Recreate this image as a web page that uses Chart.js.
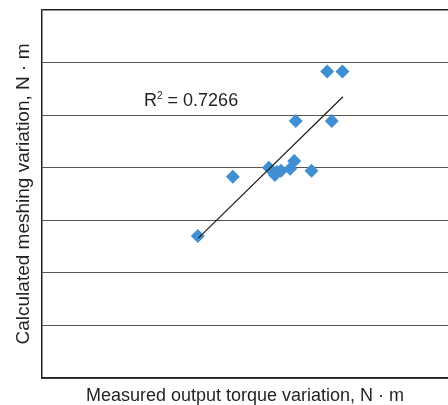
<!DOCTYPE html>
<html>
<head>
<meta charset="utf-8">
<script src="https://cdn.jsdelivr.net/npm/chart.js@4.4.0/dist/chart.umd.min.js"></script>
<style>
	html, body { margin: 0; padding: 0; background: #fff; }
	#wrap { width: 448px; height: 405px; }
</style>
</head>
<body>
<div id="wrap"><canvas id="chart"></canvas></div>
<script>
// measured torque variation (x) vs calculated meshing variation (y)
var measured = [3.07, 3.76, 4.47, 4.59, 4.63, 4.71, 4.89, 4.97, 5.31, 5.00, 5.71, 5.62, 5.92];
var calculated = [2.70, 3.83, 4.00, 3.86, 3.92, 3.94, 3.98, 4.13, 3.94, 4.89, 4.89, 5.83, 5.83];

// linear trend line end points
var trendX = [3.08, 5.93];
var trendY = [2.66, 5.35];

var r2Text = "0.7266";
var r2Pos = [2.01, 5.17];

var xTitle = "Measured output torque variation, N · m";
var yTitle = "Calculated meshing variation, N · m";

var FONT = "'Liberation Sans', Arial, Helvetica, sans-serif";
var TEXT = "#231f20";

var points = [];
for (let i = 0; i < measured.length; i++) {
	points.push({x: measured[i], y: calculated[i]});
}
var trend = [];
for (let i = 0; i < trendX.length; i++) {
	trend.push({x: trendX[i], y: trendY[i]});
}

// R² label drawn in data coordinates
var r2Label = {
	id: "r2Label",
	afterDraw: function(chart) {
		var ctx = chart.ctx;
		var x = chart.scales.x.getPixelForValue(r2Pos[0]);
		var y = chart.scales.y.getPixelForValue(r2Pos[1]);
		ctx.save();
		ctx.fillStyle = TEXT;
		ctx.textBaseline = "alphabetic";
		ctx.font = "18px " + FONT;
		ctx.fillText("R", x, y);
		var w = ctx.measureText("R").width;
		ctx.font = "10px " + FONT;
		ctx.fillText("2", x + w, y - 7);
		var w2 = ctx.measureText("2").width;
		ctx.font = "18px " + FONT;
		ctx.fillText(" = " + r2Text, x + w + w2, y);
		ctx.restore();
	}
};

var ctx = document.getElementById("chart").getContext("2d");
new Chart(ctx, {
	type: "scatter",
	data: {
		datasets: [{
			data: points,
			pointStyle: "rectRot",
			pointRadius: 7,
			pointHoverRadius: 7,
			backgroundColor: "#3f8fd2",
			borderColor: "#3f8fd2",
			borderWidth: 0,
			order: 2
		}, {
			type: "line",
			data: trend,
			borderColor: "#1a1a1a",
			borderWidth: 1.2,
			pointRadius: 0,
			fill: false,
			order: 1
		}]
	},
	options: {
		responsive: true,
		maintainAspectRatio: false,
		animation: false,
		layout: {
			autoPadding: false,
			padding: { top: 10, right: 0, left: 0, bottom: 0 }
		},
		plugins: {
			legend: { display: false },
			tooltip: { enabled: false }
		},
		scales: {
			x: {
				type: "linear",
				min: 0,
				max: 8,
				grid: { display: false },
				ticks: { display: false },
				border: { display: true, color: "#231f20", width: 1.5 },
				title: {
					display: true,
					text: xTitle,
					color: TEXT,
					font: { family: FONT, size: 18 },
					padding: { top: 0, bottom: -2 }
				},
				afterFit: function(scale) { scale.height = 27; }
			},
			y: {
				type: "linear",
				min: 0,
				max: 7,
				ticks: { display: false, stepSize: 1 },
				grid: {
					color: function(c) { return c.tick && c.tick.value === 7 ? "#231f20" : "#555"; },
					lineWidth: function(c) { return c.tick && c.tick.value === 7 ? 1.5 : 1; },
					drawTicks: false
				},
				border: { display: true, color: "#231f20", width: 1.5 },
				title: {
					display: true,
					text: yTitle,
					color: TEXT,
					font: { family: FONT, size: 19 },
					padding: { top: 12, bottom: 0 }
				},
				afterFit: function(scale) { scale.width = 42; }
			}
		}
	},
	plugins: [r2Label]
});
</script>
</body>
</html>
